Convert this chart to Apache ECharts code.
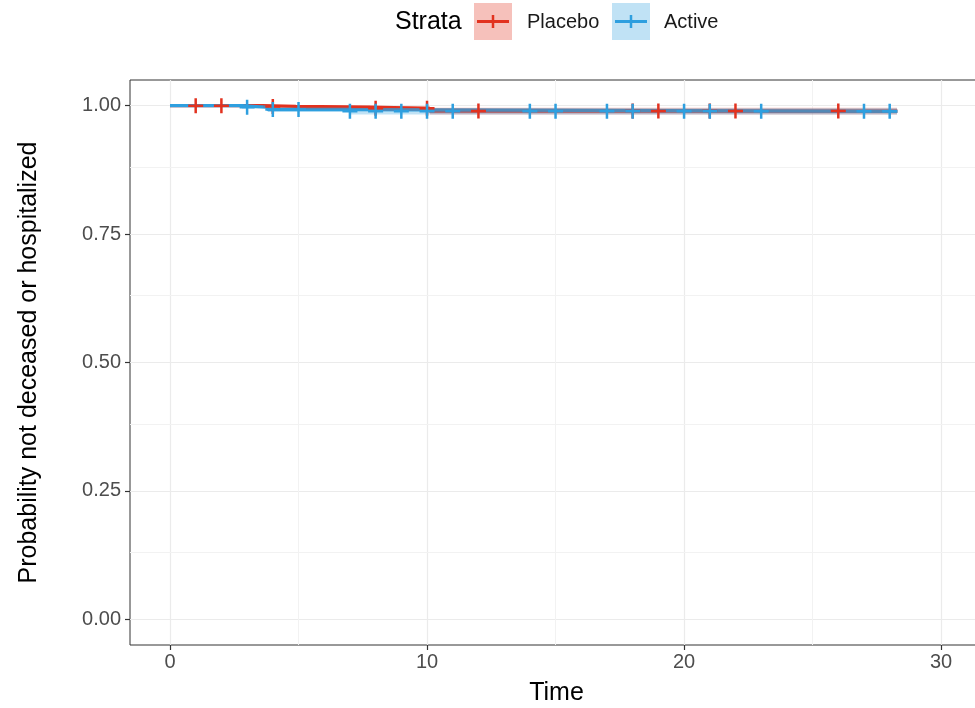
<!DOCTYPE html>
<html>
<head>
<meta charset="utf-8">
<script src="https://cdn.jsdelivr.net/npm/echarts@6/dist/echarts.min.js"></script>
<style>
  html, body { margin: 0; padding: 0; background: #fff; }
  #chart { width: 975px; height: 708px; }
</style>
</head>
<body>
<div id="chart"></div>
<script>
// Kaplan-Meier estimates
var placeboTime  = [0, 3.6, 4.9, 7.8, 10.1, 28.3];
var placeboSurv  = [1.000, 0.9985, 0.997, 0.995, 0.9895, 0.9895];
var placeboLower = [1.000, 0.996, 0.993, 0.990, 0.983, 0.983];
var placeboUpper = [1.000, 1.000, 1.000, 0.999, 0.996, 0.996];
var placeboCensor = [1, 2, 4, 8, 10, 12, 18, 19, 21, 22, 26];

var activeTime  = [0, 2.8, 3.8, 7.0, 28.3];
var activeSurv  = [1.000, 0.997, 0.9925, 0.989, 0.989];
var activeLower = [1.000, 0.994, 0.988, 0.983, 0.983];
var activeUpper = [1.000, 1.000, 0.997, 0.995, 0.995];
var activeCensor = [3, 4, 5, 7, 8, 9, 10, 11, 14, 15, 17, 18, 20, 21, 23, 27, 28];

var xTicks = [0, 10, 20, 30];
var xMinor = [5, 15, 25];
var yTicks = [0, 0.25, 0.5, 0.75, 1];
var yMinor = [0.125, 0.375, 0.625, 0.875];
var strataNames = ['Placebo', 'Active'];

var RED = '#E2321F';
var BLUE = '#2E9FDF';
var FONT = 'Liberation Sans, Arial, sans-serif';
var PLUS = 'path://M7.5,0H10.5V7.5H18V10.5H10.5V18H7.5V10.5H0V7.5H7.5Z';

function pairs(xs, ys) {
  return xs.map(function (x, i) { return [x, ys[i]]; });
}
// survival value at time t (step function)
function stepAt(times, surv, t) {
  var v = surv[0];
  for (var i = 0; i < times.length; i++) {
    if (times[i] <= t) { v = surv[i]; }
  }
  return v;
}
function censorPoints(times, surv, cens) {
  return cens.map(function (t) { return [t, stepAt(times, surv, t)]; });
}
// one rect per step interval: [t0, t1, lower, upper]
function bandRows(times, lower, upper) {
  var rows = [];
  for (var i = 0; i < times.length - 1; i++) {
    rows.push([times[i], times[i + 1], lower[i], upper[i]]);
  }
  return rows;
}

function curve(name, color, times, surv) {
  return {
    name: name, type: 'line', step: 'end', showSymbol: false, symbol: 'none',
    data: pairs(times, surv),
    lineStyle: { color: color, width: 3.2 }, z: 2
  };
}
function marks(name, color, times, surv, cens) {
  return {
    name: name + ' censor', type: 'scatter', symbol: PLUS, symbolSize: 15,
    data: censorPoints(times, surv, cens),
    itemStyle: { color: color, opacity: 1 }, z: 4
  };
}
function band(name, color, times, lower, upper) {
  return {
    name: name + ' ci', type: 'custom', z: 3, silent: true,
    data: bandRows(times, lower, upper),
    encode: { x: [0, 1], y: [2, 3] },
    renderItem: function (params, api) {
      var a = api.coord([api.value(0), api.value(3)]);
      var b = api.coord([api.value(1), api.value(2)]);
      var x0 = Math.round(a[0]), x1 = Math.round(b[0]);
      return {
        type: 'rect',
        shape: { x: x0, y: a[1], width: x1 - x0, height: Math.max(b[1] - a[1], 0) },
        style: { fill: color, opacity: 0.3 }
      };
    }
  };
}

function vLines(vals) { return vals.map(function (v) { return { xAxis: v }; }); }
function hLines(vals) { return vals.map(function (v) { return { yAxis: v }; }); }

var chart = echarts.init(document.getElementById('chart'));

// panel grid lines, kept under the curves
function gridSeries(name, color, width, vals, hvals) {
  return {
    name: name, type: 'line', data: [], z: 1, silent: true,
    markLine: {
      z: 1, silent: true, symbol: ['none', 'none'], label: { show: false },
      lineStyle: { color: color, width: width, type: 'solid' },
      emphasis: { disabled: true },
      data: vLines(vals).concat(hLines(hvals))
    }
  };
}

var series = [
  gridSeries('grid', '#EBEBEB', 1.2, xTicks, yTicks),
  gridSeries('grid minor', '#F2F2F2', 1, xMinor, yMinor),
  curve(strataNames[0], RED, placeboTime, placeboSurv),
  curve(strataNames[1], BLUE, activeTime, activeSurv),
  band('p', RED, placeboTime, placeboLower, placeboUpper),
  band('a', BLUE, activeTime, activeLower, activeUpper),
  marks(strataNames[0], RED, placeboTime, placeboSurv, placeboCensor),
  marks(strataNames[1], BLUE, activeTime, activeSurv, activeCensor)
];

// legend drawn like the ggplot key boxes
function key(x, color, label, labelX) {
  return [
    { type: 'rect', shape: { x: x, y: 3, width: 38, height: 37 }, style: { fill: color, opacity: 0.3 } },
    { type: 'line', shape: { x1: x + 3, y1: 21.5, x2: x + 35, y2: 21.5 }, style: { stroke: color, lineWidth: 3 } },
    { type: 'line', shape: { x1: x + 19, y1: 15, x2: x + 19, y2: 28 }, style: { stroke: color, lineWidth: 2.5 } },
    { type: 'text', x: labelX, y: 22, style: { text: label, font: '20px ' + FONT, fill: '#1a1a1a', verticalAlign: 'middle' } }
  ];
}

chart.setOption({
  animation: false,
  backgroundColor: '#fff',
  textStyle: { fontFamily: FONT },
  grid: {
    left: 130, top: 80, height: 565, width: 853,
    outerBoundsMode: 'none', containLabel: false,
    show: true, borderColor: '#333', borderWidth: 1, backgroundColor: '#fff'
  },
  xAxis: {
    type: 'value', min: -1.556, max: 31.63,
    name: 'Time', nameLocation: 'middle', nameGap: 36,
    nameTextStyle: { fontSize: 25, color: '#000', fontFamily: FONT },
    axisLine: { show: false, onZero: false },
    axisTick: { show: true, length: 5, lineStyle: { color: '#333', width: 1.2 }, customValues: xTicks },
    axisLabel: { color: '#4D4D4D', fontSize: 20, margin: 7, customValues: xTicks, fontFamily: FONT },
    splitLine: { show: false }
  },
  yAxis: {
    type: 'value', min: -0.05, max: 1.05,
    name: 'Probability not deceased or hospitalized', nameLocation: 'middle', nameGap: 88,
    nameTextStyle: { fontSize: 25, color: '#000', fontFamily: FONT },
    axisLine: { show: false, onZero: false },
    axisTick: { show: true, length: 5, lineStyle: { color: '#333', width: 1.2 }, customValues: yTicks },
    axisLabel: {
      color: '#4D4D4D', fontSize: 20, margin: 9, customValues: yTicks, fontFamily: FONT,
      formatter: function (v) { return v.toFixed(2); }
    },
    splitLine: { show: false }
  },
  graphic: [
    { type: 'text', x: 395, y: 22, style: { text: 'Strata', font: '25px ' + FONT, fill: '#000', verticalAlign: 'middle' } }
  ].concat(key(474, RED, strataNames[0], 527), key(612, BLUE, strataNames[1], 664)),
  series: series
});
</script>
</body>
</html>
